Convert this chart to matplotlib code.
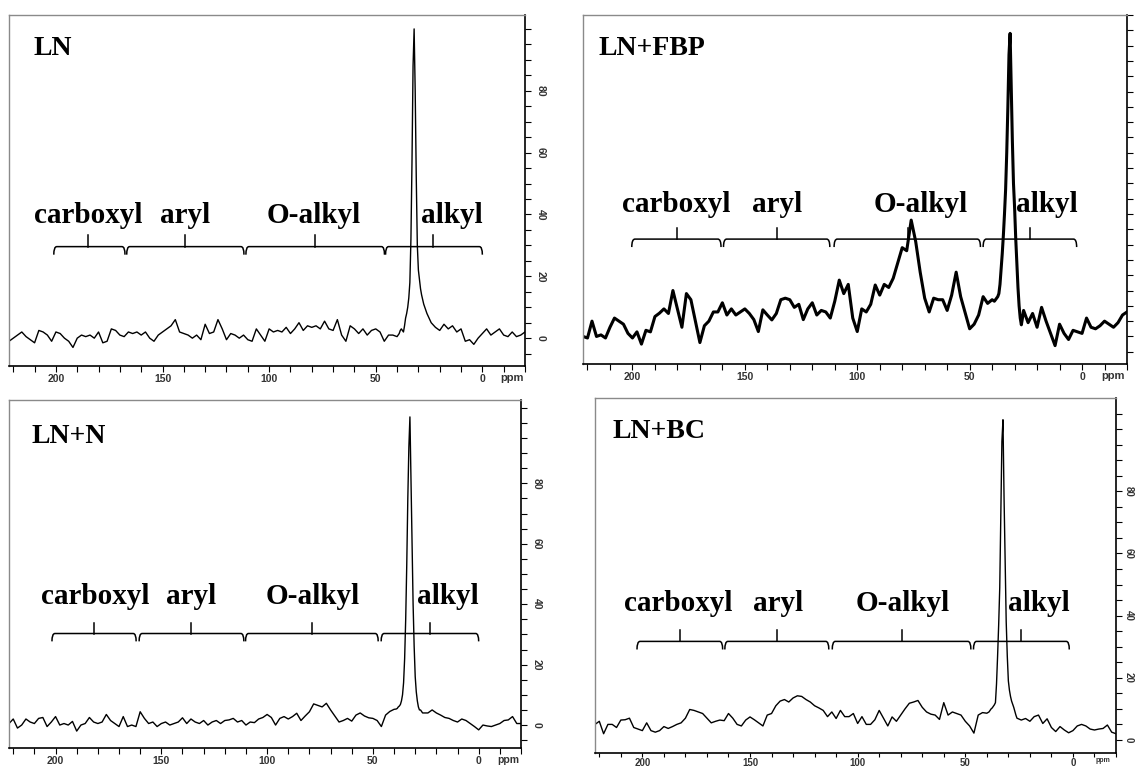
import numpy as np
import matplotlib
matplotlib.use('Agg')
import matplotlib.pyplot as plt
from matplotlib.path import Path
from matplotlib.patches import PathPatch

# ---------------- data ----------------
# chemical shift grid (ppm): coarse baseline, fine around the alkyl peak
ppm = list(range(222, 38, -2)) + [39 - 0.5 * i for i in range(27)] + list(range(24, -22, -2))

ln_vals = [
    -1, 0, 1, 2, 0.5, -0.5, -1.5, 2.5, 2, 1,
    -1, 2, 1.5, 0, -1, -3, 0, 1, 0.5, 1,
    0, 2, -1.5, -1, 3, 2.5, 1, 0.5, 2, 1.5,
    2, 1, 2, 0, -1, 1, 2, 3, 4, 6,
    2, 1.5, 1, 0, 1, -0.5, 4.5, 1.5, 2, 6,
    3, -0.5, 1.5, 1, 0, 1, -0.5, -1, 3, 1,
    -1, 3, 2, 2.5, 2, 3.5, 1.5, 3, 5, 2.5,
    4, 3.5, 4, 3, 5.5, 3, 2.5, 6, 1, -1,
    4, 3, 1.5, 3, 1, 2.5, 3, 2, -1, 1,
    1, 0.5,
    1.5, 2.5, 3, 2.5, 2, 4, 6.5, 8, 10, 13, 18, 32, 57, 88, 100, 80, 52, 30, 22,
    19, 16, 14, 12.5, 11, 10, 9, 8,
    5, 3.5, 2.5, 4.5, 3, 4, 2, 3, -1, -0.5, -2, 0, 1.5, 3, 1, 2, 3, 1, 0.5, 2,
    0.5, 1, 2,
]

ln_fbp_vals = [
    0, -0.5, 5, 0, 0.5, -0.5, 3, 6, 5, 4,
    1, -0.5, 1.5, -2.5, 2, 1.5, 6.5, 7.6, 9, 7.5,
    15, 9, 3, 14, 12, 5, -2, 3.5, 5, 8,
    8, 11, 7, 9, 7, 8, 9, 7.5, 5.5, 1.6,
    8.7, 7, 5.4, 7.5, 12, 12.5, 12, 9.5, 10.5, 5.5,
    9, 11, 7, 8.5, 8, 6, 11.5, 18.4, 14, 17,
    6, 1.6, 9, 8, 10.5, 16.8, 13.5, 17, 16, 19,
    24, 29, 28, 38, 31, 21, 12.5, 8, 12.5, 12,
    12, 8.5, 13.5, 21, 13, 7.8, 2.5, 4, 7, 13,
    10.8, 12,
    11.5, 12, 12.5, 13, 14, 17, 22, 27, 33, 40, 48, 60, 75, 92, 99, 82, 64, 50, 42,
    32, 24, 16, 10, 6, 3.8, 6, 8.5,
    4.5, 7.5, 3, 9.5, 5, 1, -3, 4, 1, -1, 2, 1.5, 1, 6, 3, 2.5, 3.5, 5, 4, 3,
    4.5, 7, 8,
]

ln_n_vals = [
    0.5, 2, -1, 0, 2, 1, 0.5, 2.2, 2.5, -0.5,
    1, 2.8, 0, 0.5, 0, 1.2, -2, 0, 0.5, 2.5,
    1, 0.5, 1, 3.5, 1.5, 0.5, -0.5, 2.8, -0.5, 0,
    -0.5, 4.4, 2.2, 0.5, 1, -0.5, 0.5, 1, 0, 0.5,
    1, 2.4, 0.5, 2, 1, 0.5, 1.5, 0, 1, 1.5,
    0.5, 1.5, 1.7, 2.2, 1, 1.5, 0, 1, 0.8, 2,
    2.5, 3.5, 2.5, 0, 2.2, 2.8, 2, 2.8, 3.9, 1.5,
    3, 4.4, 7, 6.5, 6, 7.2, 5, 3, 1, 1.5,
    2.2, 1.3, 3.3, 4, 3, 2.4, 2.2, 1.5, -0.5, 3.3,
    4.5, 5.2,
    5.3, 5.5, 6, 6.3, 6.8, 8, 10, 14, 22, 35, 53, 75, 92, 102, 82, 60, 40, 26, 16,
    11, 8, 6, 5, 5, 4.5, 4, 4,
    4, 5, 4, 3.3, 2.5, 2.2, 1.5, 1, 2, 1.5, 0.5, -0.5, -1.6, 0, -0.3, -0.5, 0, 0.5,
    1.5, 1.7, 2.8, 0.5, 0.5,
]

ln_bc_vals = [
    5, 6, 2, 5, 5, 4, 6.4, 6.5, 7, 4,
    3.5, 3, 5.5, 3, 2.5, 3, 4.3, 3.7, 4.3, 5,
    5.5, 7, 9.8, 9.5, 9, 8.5, 7, 5.5, 6, 6.4,
    6.2, 8.5, 7, 5, 4.5, 6.4, 7.4, 6.5, 5.5, 4.5,
    8, 8.5, 11, 12.5, 13, 12.2, 13.5, 14.2, 14, 13,
    12.2, 11, 10.3, 9.5, 7.5, 9, 6.9, 9.5, 7.5, 7.5,
    8.5, 5.3, 7.5, 5, 5, 6.5, 9.5, 7, 4.5, 7.4,
    6, 8, 10, 11.8, 12.2, 12.7, 10.5, 9, 8.3, 8,
    6.6, 12, 8, 9, 8.5, 8, 6, 4.5, 2.2, 8,
    8.8, 8.6,
    9, 9.5, 10, 10.3, 10.8, 11.3, 12, 18, 27, 37, 49, 72, 96, 103, 78, 57, 38, 27, 19,
    16, 14, 12.5, 11.5, 10.5, 9.2, 8, 7,
    6.4, 6.9, 6, 7.5, 8, 5.3, 6.8, 4, 2.7, 4.3, 3.2, 2.3, 3, 4.5, 5, 4.5, 3.5, 3.2,
    3.5, 3.7, 4.8, 2.5, 2,
]

titles = ["LN", "LN+FBP", "LN+N", "LN+BC"]
region_names = ["carboxyl", "aryl", "O-alkyl", "alkyl"]
x_tick_labels = ["200", "150", "100", "50", "0"]
y_tick_labels = ["0", "20", "40", "60", "80"]

# region label centres (ppm) per panel
label_ppm = [
    [184.9, 139.5, 79.0, 14.3],
    [180.6, 135.7, 71.9, 15.5],
    [181.4, 135.8, 78.3, 14.4],
    [183.2, 137.0, 79.3, 15.8],
]
label_y = [37.3, 40.7, 40.0, 41.5]

# brackets per panel: (start, end, centre tick) ppm
brackets = [
    [(201.0, 167.6, 185.0), (166.8, 111.8, 139.5), (110.9, 45.9, 78.5), (45.4, 0.0, 23.0)],
    [(200.3, 160.6, 180.2), (159.5, 112.2, 135.7), (110.3, 45.2, 77.5), (44.0, 2.4, 23.3)],
    [(201.7, 161.9, 181.9), (160.5, 111.0, 135.9), (110.2, 47.5, 78.8), (46.1, 0.0, 23.2)],
    [(202.5, 162.7, 182.4), (161.7, 113.4, 137.3), (111.8, 47.4, 79.3), (46.2, 1.7, 23.9)],
]
bracket_y = [29.6, 31.8, 30.3, 31.7]

spectra = [ln_vals, ln_fbp_vals, ln_n_vals, ln_bc_vals]

# ---------------- layout / style ----------------
W, H = 1135, 766
fig = plt.figure(figsize=(W / 100, H / 100), dpi=100)

rects_px = [  # left, top, right, bottom in pixels
    (9, 15, 525, 366),
    (583, 15, 1127, 364),
    (9, 400, 521, 748),
    (595, 398, 1116, 753),
]
ylims = [(-9, 104.5), (-9, 105), (-7.6, 107.6), (-4.2, 110)]
line_w = [1.0, 2.2, 1.0, 1.0]
title_pos = [(0.047, 0.886), (0.028, 0.886), (0.043, 0.876), (0.033, 0.887)]
show_ylabels = [True, False, True, True]
ppm_size = [8, 8, 7.5, 5]
xlab_size = [7.5, 7.5, 7.5, 7]
xlab_pad = [2, 2, 2, 0.3]
xtick_len = [4, 4, 4, 3]
ylab_size = [7.5, 7.5, 7.5, 7]
ylab_pad = [4, 4, 4, 1.5]

serif = ["Liberation Serif", "DejaVu Serif"]
sans = ["Liberation Sans", "DejaVu Sans"]

x = np.array(ppm, dtype=float)

for i in range(4):
    l, t, r, b = rects_px[i]
    ax = fig.add_axes([l / W, (H - b) / H, (r - l) / W, (b - t) / H])
    y = np.array(spectra[i], dtype=float)
    ax.plot(x, y, color="black", lw=line_w[i], solid_joinstyle="round")
    ax.set_xlim(222, -20)
    ax.set_ylim(*ylims[i])

    # spines
    for s in ("top", "left"):
        ax.spines[s].set_color("#8a8a8a")
        ax.spines[s].set_linewidth(1.0)
    for s in ("bottom", "right"):
        ax.spines[s].set_color("black")
        ax.spines[s].set_linewidth(1.2)

    # x ticks
    xt = list(range(220, -21, -10))
    ax.set_xticks(xt)
    xl = [str(v) if str(v) in x_tick_labels else "" for v in xt]
    ax.set_xticklabels(xl, fontfamily=sans, fontsize=xlab_size[i], fontweight="bold",
                       color="#333333")
    ax.tick_params(axis="x", direction="out", length=xtick_len[i], width=0.8, pad=xlab_pad[i])

    # y ticks on the right
    ax.yaxis.tick_right()
    lo, hi = ylims[i]
    yt = [v for v in range(-5, 110, 5) if lo <= v <= hi]
    ax.set_yticks(yt)
    if show_ylabels[i]:
        yl = [str(v) if str(v) in y_tick_labels else "" for v in yt]
    else:
        yl = ["" for v in yt]
    ax.set_yticklabels(yl, fontfamily=sans, fontsize=ylab_size[i], fontweight="bold",
                       color="#333333", rotation=-90, va="center")
    ax.tick_params(axis="y", direction="out", length=4, width=0.8, pad=ylab_pad[i])

    # "ppm" label
    ax.annotate("ppm", xy=(-14, 0), xycoords=("data", "axes fraction"),
                xytext=(0, -(xtick_len[i] * 0.72 + xlab_pad[i] + 0.5)),
                textcoords="offset points",
                ha="center", va="top", fontfamily=sans, fontsize=ppm_size[i],
                fontweight="bold", color="#333333", annotation_clip=False)

    # title
    ax.text(title_pos[i][0], title_pos[i][1], titles[i], transform=ax.transAxes,
            ha="left", va="baseline", fontfamily=serif, fontweight="bold", fontsize=20)

    # region labels
    for name, px in zip(region_names, label_ppm[i]):
        ax.text(px, label_y[i], name, ha="center", va="baseline",
                fontfamily=serif, fontweight="bold", fontsize=21)

    # brackets
    yb = bracket_y[i]
    d = 2.6   # hook depth (data units)
    w = 1.4   # hook width (ppm)
    tk = 3.6  # centre tick height
    for (x0, x1, xc) in brackets[i]:
        verts = [(x0, yb - d), (x0, yb), (x0 - w, yb), (x1 + w, yb), (x1, yb), (x1, yb - d)]
        codes = [Path.MOVETO, Path.CURVE3, Path.CURVE3, Path.LINETO, Path.CURVE3, Path.CURVE3]
        ax.add_patch(PathPatch(Path(verts, codes), facecolor="none", edgecolor="black", lw=1.1))
        ax.plot([xc, xc], [yb, yb + tk], color="black", lw=1.1)

fig.savefig("out.png", dpi=100)
